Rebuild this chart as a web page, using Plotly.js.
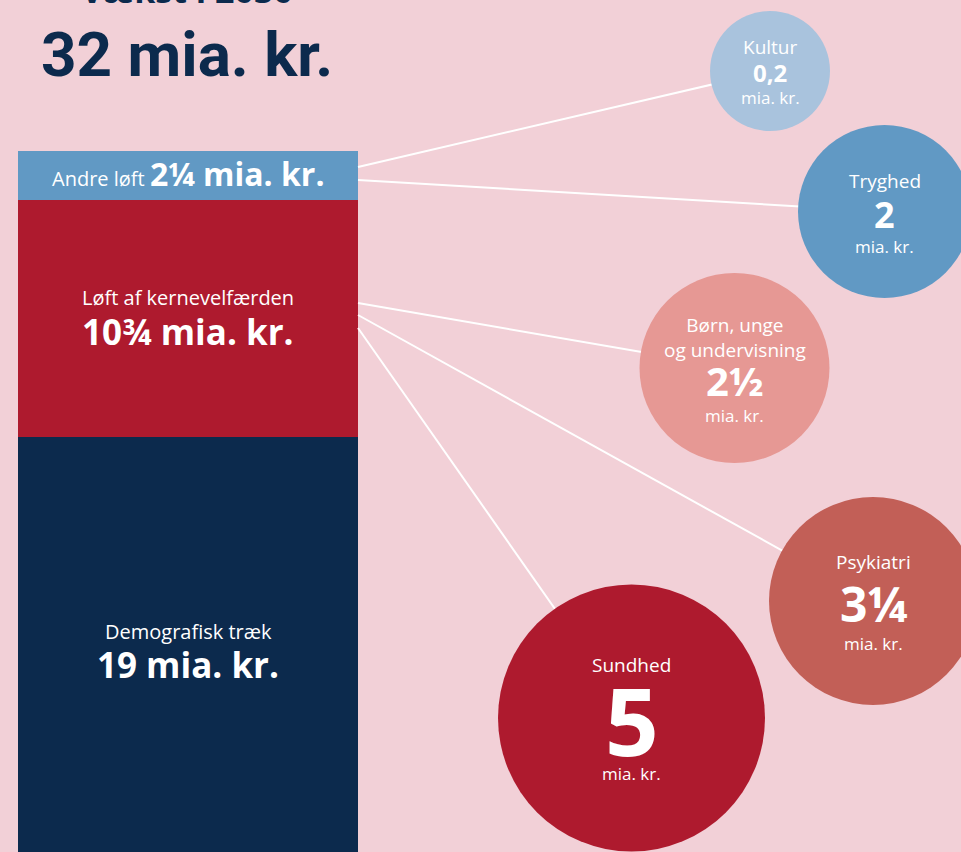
<!DOCTYPE html>
<html><head><meta charset="utf-8">
<script src="https://cdn.plot.ly/plotly-3.0.1.min.js"></script>
<style>html,body{margin:0;padding:0;background:#f2d0d7;overflow:hidden;}</style>
</head><body><div id="chart" style="width:961px;height:852px;"></div>
<script>
// ---------- DATA ----------
const barCategories = ['Demografisk træk', 'Løft af kernevelfærden', 'Andre løft'];
const barValues = [19, 10.75, 2.25];
const circleNames = ['Kultur', 'Tryghed', 'Børn, unge<br>og undervisning', 'Psykiatri', 'Sundhed'];
const circleValues = [0.2, 2, 2.5, 3.25, 5];
const unitLabel = 'mia. kr.';
const headLabel = 'Vækst i 2030';

// ---------- STYLE / LAYOUT ----------
const bg = '#f2d0d7';
const navy = '#0c2a4d';
const barColors = ['#0c2a4d', '#ae1a2e', '#6199c4'];
const barLabelShift = [[14, -19], [21, -13], [2, 2]];   // [label yshift, value yshift] px
const circleColors = ['#a9c3dd', '#6199c4', '#e69894', '#c25f57', '#ae1a2e'];
const circleCx = [770, 884.5, 734.5, 873, 631.5];
const circleCy = [71, 211.5, 368, 601, 718];
const circleD = [120, 173, 190, 208, 267];
const labelDy = [-24, -31, -31, -39, -53];
const valueDy = [1, 3, 12, 2, 2];
const unitDy = [26, 35, 47, 42, 55];
const valueSize = [24, 36, 40, 48, 94];
const connectorStartY = [167, 180, 303, 315, 328];
const barRightPx = 358;
const FONT = 'Open Sans, Liberation Sans, sans-serif';

function fmt(v) {
  const i = Math.floor(v);
  const f = Math.round((v - i) * 100) / 100;
  const fr = {0.25: '¼', 0.5: '½', 0.75: '¾'};
  if (f === 0) return String(i);
  if (fr[f]) return i + fr[f];
  return String(v).replace('.', ',');
}

const traces = [];
barCategories.forEach((c, k) => {
  traces.push({
    type: 'bar', x: [0], y: [barValues[k]], name: c, width: 1,
    marker: {color: barColors[k], line: {width: 0}},
    hoverinfo: 'skip', showlegend: false, xaxis: 'x', yaxis: 'y'
  });
});

// connectors
const lx = [], ly = [];
circleNames.forEach((n, k) => {
  lx.push(barRightPx, circleCx[k], null);
  ly.push(connectorStartY[k], circleCy[k], null);
});
traces.push({
  type: 'scatter', mode: 'lines', x: lx, y: ly, xaxis: 'x2', yaxis: 'y2',
  line: {color: '#ffffff', width: 2}, hoverinfo: 'skip', showlegend: false
});
traces.push({
  type: 'scatter', mode: 'markers', x: circleCx, y: circleCy, xaxis: 'x2', yaxis: 'y2',
  marker: {size: circleD, color: circleColors, line: {width: 0}, opacity: 1},
  text: circleNames, hoverinfo: 'skip', showlegend: false, cliponaxis: false
});

const ann = [];
// head + total
const total = barValues.reduce((a, b) => a + b, 0);
ann.push({xref: 'x2', yref: 'y2', x: 187, y: 0, yshift: 10.5, text: headLabel, showarrow: false,
  xanchor: 'center', yanchor: 'middle', font: {family: FONT, size: 34, color: navy, weight: 700}});
ann.push({xref: 'x2', yref: 'y2', x: 187, y: 54, text: fmt(total) + ' ' + unitLabel, showarrow: false,
  xanchor: 'center', yanchor: 'middle', font: {family: 'Roboto, ' + FONT, size: 62, color: navy, weight: 700}});

// bar labels
let cum = 0;
barCategories.forEach((c, k) => {
  const mid = cum + barValues[k] / 2;
  cum += barValues[k];
  if (k === 2) {
    ann.push({xref: 'x', yref: 'y', x: 0, y: mid, yshift: barLabelShift[k][0], showarrow: false,
      text: c + ' <span style="font-size:32px;font-weight:bold">' + fmt(barValues[k]) + ' ' + unitLabel + '</span>',
      font: {family: FONT, size: 20, color: '#ffffff'}, xanchor: 'center', yanchor: 'middle'});
  } else {
    ann.push({xref: 'x', yref: 'y', x: 0, y: mid, yshift: barLabelShift[k][0], showarrow: false,
      text: c, font: {family: FONT, size: 20, color: '#ffffff'}, xanchor: 'center', yanchor: 'middle'});
    ann.push({xref: 'x', yref: 'y', x: 0, y: mid, yshift: barLabelShift[k][1], showarrow: false,
      text: fmt(barValues[k]) + ' ' + unitLabel, font: {family: FONT, size: 35, color: '#ffffff', weight: 700},
      xanchor: 'center', yanchor: 'middle'});
  }
});

// circle labels
circleNames.forEach((n, k) => {
  ann.push({xref: 'x2', yref: 'y2', x: circleCx[k], y: circleCy[k] + labelDy[k], text: n, showarrow: false,
    font: {family: FONT, size: 19, color: '#ffffff'}, xanchor: 'center', yanchor: 'middle'});
  ann.push({xref: 'x2', yref: 'y2', x: circleCx[k], y: circleCy[k] + valueDy[k], text: fmt(circleValues[k]), showarrow: false,
    font: {family: FONT, size: valueSize[k], color: '#ffffff', weight: 700}, xanchor: 'center', yanchor: 'middle'});
  ann.push({xref: 'x2', yref: 'y2', x: circleCx[k], y: circleCy[k] + unitDy[k], text: unitLabel, showarrow: false,
    font: {family: FONT, size: 17, color: '#ffffff'}, xanchor: 'center', yanchor: 'middle'});
});

const layout = {
  width: 961, height: 852,
  margin: {l: 0, r: 0, t: 0, b: 0, pad: 0},
  paper_bgcolor: bg, plot_bgcolor: bg,
  barmode: 'stack', bargap: 0,
  showlegend: false,
  xaxis: {range: [-0.553, 2.273], visible: false, fixedrange: true},
  yaxis: {range: [0.136, 38.86], visible: false, fixedrange: true},
  xaxis2: {range: [0, 961], visible: false, overlaying: 'x', anchor: 'y2'},
  yaxis2: {range: [852, 0], visible: false, overlaying: 'y', anchor: 'x2'},
  annotations: ann
};
Plotly.newPlot('chart', traces, layout, {staticPlot: true, displayModeBar: false});
</script>
</body></html>
